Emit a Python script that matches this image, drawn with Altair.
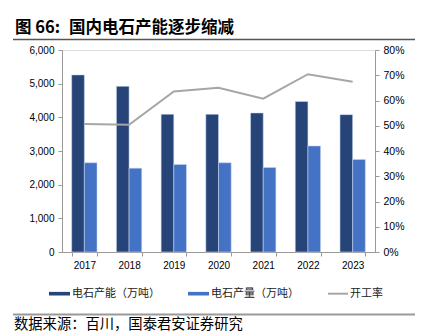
import altair as alt
import pandas as pd

years = ["2017", "2018", "2019", "2020", "2021", "2022", "2023"]
capacity = [5260, 4920, 4090, 4090, 4130, 4470, 4080]
output = [2650, 2490, 2600, 2650, 2510, 3150, 2750]
rate = [0.507, 0.504, 0.636, 0.650, 0.607, 0.704, 0.674]
series = ["电石产能（万吨）", "电石产量（万吨）"]
rate_name = "开工率"
colors = ["#264478", "#4472C4"]
line_color = "#A6A6A6"

title_num = "图 66:"
title_text = "国内电石产能逐步缩减"
source_text = "数据来源：百川，国泰君安证券研究"

W, H = 313, 202
CJK = "Noto Sans CJK SC"
LAT = "Liberation Sans"

bars_df = pd.DataFrame({
    "year": years * 2,
    "series": [series[0]] * len(years) + [series[1]] * len(years),
    "value": capacity + output,
})
line_df = pd.DataFrame({"year": years, "rate": rate})
one = pd.DataFrame({"k": [0]})

x_scale = alt.Scale(domain=years, paddingInner=0.434, paddingOuter=0.217)

bars = alt.Chart(bars_df).mark_bar(stroke="#c9d5ee", strokeWidth=0.8, strokeOpacity=0.7).encode(
    x=alt.X("year:N", scale=x_scale, sort=years,
            axis=alt.Axis(title=None, labelAngle=0, tickBand="extent", tickSize=4,
                          domainColor="#999999", tickColor="#999999", labelFont=LAT,
                          labelFontSize=10, labelColor="#000000", labelPadding=4)),
    xOffset=alt.XOffset("series:N", scale=alt.Scale(domain=series, paddingInner=0, paddingOuter=0)),
    y=alt.Y("value:Q", scale=alt.Scale(domain=[0, 6000]),
            axis=alt.Axis(title=None, values=list(range(0, 6001, 1000)), format=",d",
                          grid=False, tickSize=4, domainColor="#999999", tickColor="#999999",
                          labelFont=LAT, labelFontSize=10, labelColor="#000000", labelPadding=4)),
    color=alt.Color("series:N", scale=alt.Scale(domain=series, range=colors), legend=None),
)

line = alt.Chart(line_df).mark_line(color=line_color, strokeWidth=2).encode(
    x=alt.X("year:N", sort=years),
    y=alt.Y("rate:Q", scale=alt.Scale(domain=[0, 0.8]),
            axis=alt.Axis(title=None, orient="right", values=[i / 10 for i in range(9)],
                          format=".0%", grid=False, tickSize=4, domainColor="#999999",
                          tickColor="#999999", labelFont=LAT, labelFontSize=10.5,
                          labelColor="#000000", labelPadding=4)),
)

main = alt.layer(bars, line).resolve_scale(y="independent")

title1 = alt.Chart(one).mark_text(align="left", baseline="middle", font=CJK, fontSize=16.5,
                                  fontWeight="bold", color="#000000").encode(
    x=alt.value(-47), y=alt.value(-22), text=alt.value(title_num))
title2 = alt.Chart(one).mark_text(align="left", baseline="middle", font=CJK, fontSize=16.5,
                                  fontWeight="bold", color="#000000").encode(
    x=alt.value(7), y=alt.value(-22), text=alt.value(title_text))
top_rule = alt.Chart(one).mark_rule(color="#555555", strokeWidth=1.5).encode(
    x=alt.value(-49), x2=alt.value(353), y=alt.value(-10.5))
bottom_rule = alt.Chart(one).mark_rule(color="#999999", strokeWidth=2).encode(
    x=alt.value(-49), x2=alt.value(353), y=alt.value(264.5))
source = alt.Chart(one).mark_text(align="left", baseline="middle", font=CJK, fontSize=14.3,
                                  color="#000000").encode(
    x=alt.value(-48), y=alt.value(274.5), text=alt.value(source_text))

leg_y = 243.7
sw1 = alt.Chart(one).mark_rect(color=colors[0]).encode(
    x=alt.value(-13), x2=alt.value(8), y=alt.value(leg_y - 1.8), y2=alt.value(leg_y + 1.8))
tx1 = alt.Chart(one).mark_text(align="left", baseline="middle", font=CJK, fontSize=11,
                               color="#222222").encode(
    x=alt.value(10), y=alt.value(leg_y), text=alt.value(series[0]))
sw2 = alt.Chart(one).mark_rect(color=colors[1]).encode(
    x=alt.value(126), x2=alt.value(147), y=alt.value(leg_y - 1.8), y2=alt.value(leg_y + 1.8))
tx2 = alt.Chart(one).mark_text(align="left", baseline="middle", font=CJK, fontSize=11,
                               color="#222222").encode(
    x=alt.value(149), y=alt.value(leg_y), text=alt.value(series[1]))
sw3 = alt.Chart(one).mark_rule(color=line_color, strokeWidth=2).encode(
    x=alt.value(266), x2=alt.value(286), y=alt.value(leg_y))
tx3 = alt.Chart(one).mark_text(align="left", baseline="middle", font=CJK, fontSize=11,
                               color="#222222").encode(
    x=alt.value(288), y=alt.value(leg_y), text=alt.value(rate_name))

chart = alt.layer(main, title1, title2, top_rule, bottom_rule, source,
                  sw1, tx1, sw2, tx2, sw3, tx3).properties(
    width=W, height=H,
    autosize=alt.AutoSizeParams(type="none"),
    padding={"left": 62, "top": 50, "right": 46, "bottom": 84},
).configure_view(stroke=None).configure(background="#ffffff")

chart.save("out.html", embed_options={"renderer": "svg", "actions": False})
